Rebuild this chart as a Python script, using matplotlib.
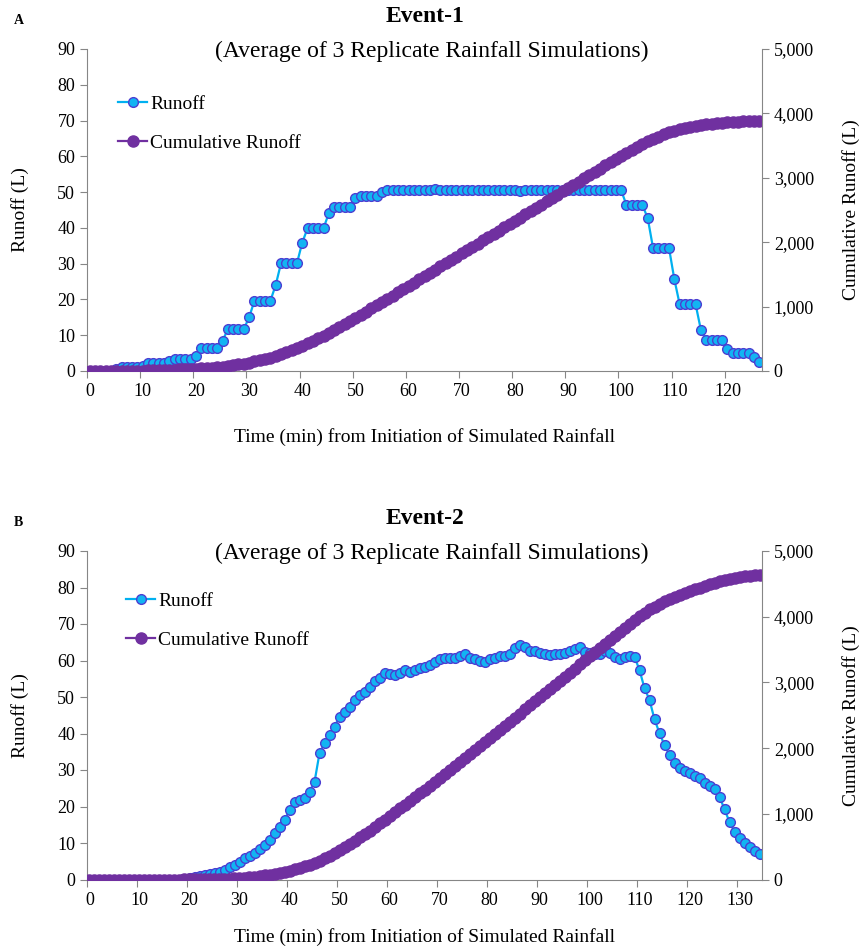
import numpy as np
import matplotlib
matplotlib.use("Agg")
import matplotlib.pyplot as plt
from matplotlib.ticker import FuncFormatter

plt.rcParams["font.family"] = ["Liberation Serif", "DejaVu Serif"]

# Event-1 runoff (L), one reading per minute, 0..126 min
runoff_1 = [
    0, 0, 0, 0, 0, 0.5, 1.0, 1.0, 1.0, 1.0,
    1.5, 2.2, 2.2, 2.2, 2.2, 2.7, 3.3, 3.3, 3.3, 3.3,
    4.2, 6.3, 6.3, 6.3, 6.3, 8.4, 11.7, 11.7, 11.7, 11.7,
    15.0, 19.6, 19.6, 19.6, 19.6, 24.0, 30.1, 30.1, 30.1, 30.1,
    35.9, 39.9, 39.9, 39.9, 39.9, 44.1, 45.9, 45.9, 45.9, 45.9,
    48.3, 48.9, 48.9, 48.9, 48.9, 50.1, 50.5, 50.5, 50.5, 50.5,
    50.5, 50.5, 50.5, 50.5, 50.5, 50.8, 50.5, 50.5, 50.5, 50.5,
    50.5, 50.5, 50.5, 50.5, 50.5, 50.5, 50.5, 50.5, 50.5, 50.5,
    50.5, 50.2, 50.5, 50.5, 50.5, 50.5, 50.5, 50.5, 50.5, 50.5,
    50.5, 50.5, 50.5, 50.5, 50.5, 50.5, 50.5, 50.5, 50.5, 50.5,
    50.5, 46.4, 46.4, 46.4, 46.4, 42.7, 34.4, 34.4, 34.4, 34.4,
    25.7, 18.7, 18.7, 18.7, 18.7, 11.5, 8.7, 8.7, 8.7, 8.7,
    6.1, 5.0, 5.0, 5.0, 5.0, 4.0, 2.6,
]

# Event-2 runoff (L), one reading per minute, 0..134 min
runoff_2 = [
    0, 0, 0, 0, 0, 0, 0, 0, 0, 0,
    0, 0, 0, 0, 0, 0, 0, 0, 0, 0.2,
    0.4, 0.7, 1.0, 1.3, 1.6, 1.8, 2.1, 2.6, 3.3, 4.1,
    4.9, 5.8, 6.4, 7.2, 8.3, 9.4, 10.8, 12.7, 14.5, 16.3,
    19.0, 21.3, 21.8, 22.2, 24.1, 26.7, 34.6, 37.3, 39.6, 41.9,
    44.6, 46.0, 47.3, 49.2, 50.5, 51.5, 52.8, 54.5, 55.1, 56.7,
    56.3, 56.0, 56.5, 57.4, 56.8, 57.4, 57.9, 58.3, 58.8, 59.7,
    60.4, 60.6, 60.6, 60.6, 61.1, 61.7, 60.6, 60.3, 59.9, 59.7,
    60.3, 60.8, 61.1, 61.2, 61.7, 63.3, 64.2, 63.6, 62.7, 62.7,
    62.1, 61.8, 61.5, 61.7, 61.8, 62.1, 62.7, 63.1, 63.6, 62.4,
    62.1, 61.9, 61.8, 62.7, 62.1, 61.0, 60.3, 60.9, 61.2, 61.0,
    57.4, 52.4, 49.2, 43.9, 40.1, 36.8, 34.1, 31.8, 30.5, 29.8,
    29.1, 28.4, 27.7, 26.5, 25.6, 24.9, 22.7, 19.2, 15.8, 13.1,
    11.3, 9.9, 8.8, 7.9, 7.0,
]

events = [
    {"letter": "A", "title": "Event-1", "runoff": runoff_1,
     "rect": (87, 49, 762, 371), "legend": (118, 95), "xlab": 437},
    {"letter": "B", "title": "Event-2", "runoff": runoff_2,
     "rect": (87, 551, 762, 879.5), "legend": (126, 592), "xlab": 937},
]

W, H = 864, 950
fig = plt.figure(figsize=(W / 100, H / 100), dpi=100)

RUN_FACE = "#12B4F2"
RUN_EDGE = "#4B3ED2"
RUN_LINE = "#00B0F0"
CUM = "#7030A0"
GRID = "#868686"


def fx(px):
    return px / W


def fy(py):
    return 1 - py / H


for ev in events:
    x0, y0, x1, y1 = ev["rect"]
    ax = fig.add_axes([fx(x0), fy(y1), fx(x1 - x0), (y1 - y0) / H])
    ax2 = ax.twinx()

    runoff = np.array(ev["runoff"])
    minutes = np.arange(len(runoff))
    cumulative = np.cumsum(runoff)

    l1, = ax.plot(minutes, runoff, color=RUN_LINE, lw=1.6, marker="o",
                  ms=7, mfc=RUN_FACE, mec=RUN_EDGE, mew=1.0, label="Runoff")
    l2, = ax2.plot(minutes, cumulative, color=CUM, lw=1.6, marker="o",
                   ms=8, mfc=CUM, mec=CUM, mew=1.0, label="Cumulative Runoff")

    n = len(runoff)
    ax.set_xlim(-0.5, n - 0.5)
    ax.set_ylim(0, 90)
    ax2.set_ylim(0, 5000)
    ax.set_yticks(np.arange(0, 91, 10))
    ax2.set_yticks(np.arange(0, 5001, 1000))
    ax2.yaxis.set_major_formatter(FuncFormatter(lambda v, p: f"{int(v):,}"))

    # category-style axis: ticks between categories, labels on them
    ax.set_xticks(np.arange(-0.5, n - 0.5, 10))
    ax.set_xticklabels([])
    ax.set_xticks(np.arange(0, n, 10), minor=True)
    ax.set_xticklabels([str(v) for v in np.arange(0, n, 10)], minor=True)
    ax.tick_params(axis="x", which="minor", length=0, pad=9)

    for a in (ax, ax2):
        a.spines["top"].set_visible(False)
        for s in a.spines.values():
            s.set_color(GRID)
        a.tick_params(which="major", color=GRID, length=5, labelsize=13,
                      direction="out")
        a.tick_params(which="minor", labelsize=13)
    ax.spines["right"].set_visible(False)
    ax2.spines["left"].set_visible(False)
    ax2.spines["bottom"].set_visible(False)

    fig.text(fx(14), fy(y0 - 29), ev["letter"], fontsize=10, fontweight="bold",
             ha="left", va="center")
    fig.text(fx(425), fy(y0 - 32), ev["title"], fontsize=17, fontweight="bold",
             ha="center", va="center")
    fig.text(fx(432), fy(y0 + 2), "(Average of 3 Replicate Rainfall Simulations)",
             fontsize=17, ha="center", va="center")
    fig.text(fx(20), fy((y0 + y1) / 2), "Runoff (L)", fontsize=14,
             rotation=90, ha="center", va="center")
    fig.text(fx(851), fy((y0 + y1) / 2), "Cumulative Runoff (L)", fontsize=14,
             rotation=90, ha="center", va="center")
    fig.text(fx(425), fy(ev["xlab"]), "Time (min) from Initiation of Simulated Rainfall",
             fontsize=14, ha="center", va="center")

    lx, ly = ev["legend"]
    ax2.legend(handles=[l1, l2], loc="upper left", frameon=False, fontsize=14,
               bbox_to_anchor=(fx(lx), fy(ly)), bbox_transform=fig.transFigure,
               borderpad=0, handlelength=1.5, handletextpad=0.15,
               labelspacing=1.1, borderaxespad=0)

fig.savefig("out.png", dpi=100)
